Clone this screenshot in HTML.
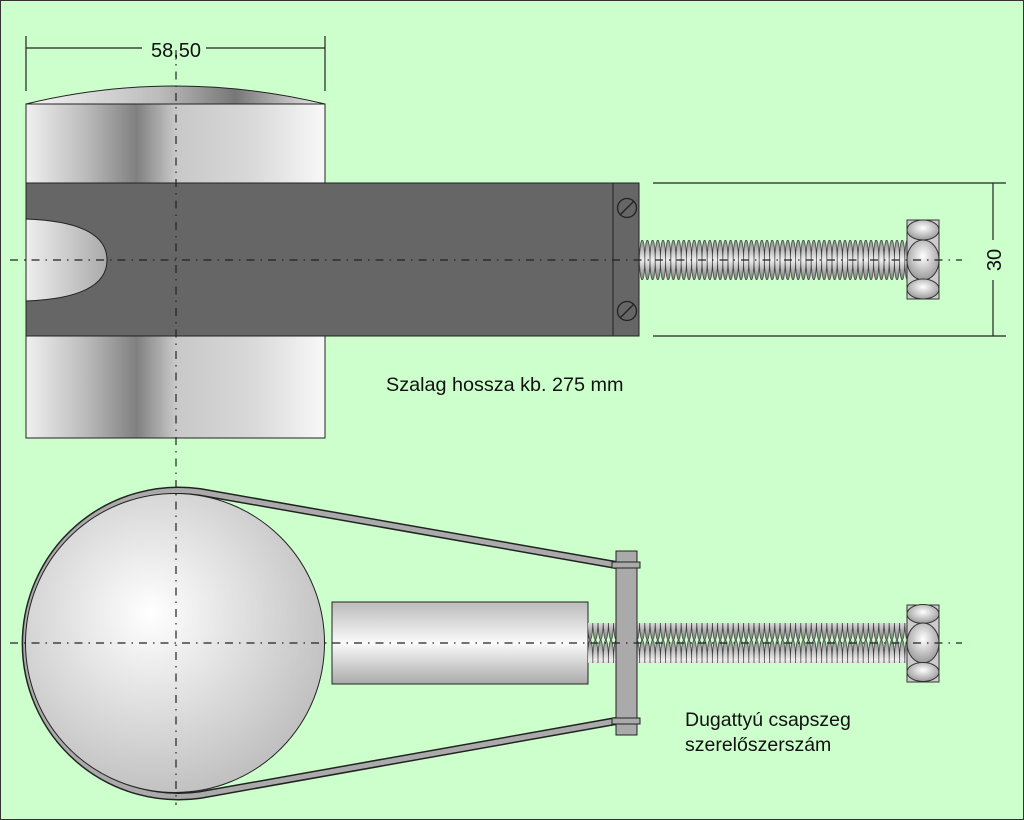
<!DOCTYPE html>
<html><head><meta charset="utf-8"><style>html,body{margin:0;padding:0;background:#ccffcc}svg{display:block}</style></head><body>
<svg width="1024" height="820" viewBox="0 0 1024 820" xmlns="http://www.w3.org/2000/svg" font-family="Liberation Sans, sans-serif">
<defs>
<linearGradient id="cyl" x1="26" y1="0" x2="325" y2="0" gradientUnits="userSpaceOnUse">
<stop offset="0" stop-color="#f0f0f0"/><stop offset="0.2" stop-color="#bbb"/><stop offset="0.37" stop-color="#808080"/><stop offset="0.5" stop-color="#c8c8c8"/><stop offset="0.75" stop-color="#d8d8d8"/><stop offset="1" stop-color="#f8f8f8"/></linearGradient>
<linearGradient id="cap" x1="26" y1="0" x2="325" y2="0" gradientUnits="userSpaceOnUse">
<stop offset="0" stop-color="#f5f5f5"/><stop offset="0.45" stop-color="#bbb"/><stop offset="0.7" stop-color="#777"/><stop offset="1" stop-color="#eee"/></linearGradient>
<linearGradient id="inner" x1="0" y1="0" x2="1" y2="0"><stop offset="0" stop-color="#eee"/><stop offset="1" stop-color="#aaa"/></linearGradient>
<linearGradient id="pin" x1="0" y1="0" x2="0" y2="1"><stop offset="0" stop-color="#bbb"/><stop offset="0.5" stop-color="#fafafa"/><stop offset="1" stop-color="#aaa"/></linearGradient>
<radialGradient id="ball" cx="0.42" cy="0.4" r="0.65"><stop offset="0" stop-color="#fff"/><stop offset="1" stop-color="#bdbdbd"/></radialGradient>
<radialGradient id="nutg" cx="0.5" cy="0.4" r="0.6"><stop offset="0" stop-color="#fff"/><stop offset="1" stop-color="#999"/></radialGradient>
<linearGradient id="thr" x1="0" y1="0" x2="0" y2="1"><stop offset="0" stop-color="#888"/><stop offset="0.5" stop-color="#eee"/><stop offset="1" stop-color="#777"/></linearGradient>
<pattern id="tp" x="0" y="0" width="5.2" height="40" patternUnits="userSpaceOnUse">
<ellipse cx="2.6" cy="20" rx="2.6" ry="20" fill="url(#thr)" stroke="#333" stroke-width="0.7"/></pattern>
</defs>
<rect x="0.5" y="0.5" width="1023" height="819" fill="#ccffcc" stroke="#333"/>

<rect x="26" y="104" width="299" height="334" fill="url(#cyl)" stroke="#222"/>
<path d="M26,104 Q175,68 325,104 Z" fill="url(#cap)" stroke="#222"/>
<rect x="26" y="183" width="587" height="153" fill="#666" stroke="#222"/>
<path d="M26,219 Q107,222 107,260 Q107,298 26,301 Z" fill="url(#inner)" stroke="#222"/>
<rect x="613" y="183" width="26" height="153" fill="#666" stroke="#222"/>
<g stroke="#222" fill="#666" stroke-width="1.3">
<circle cx="627" cy="208" r="9.5"/><line x1="620" y1="215" x2="634" y2="201"/>
<circle cx="627" cy="311" r="9.5"/><line x1="620" y1="318" x2="634" y2="304"/>
</g>
<rect x="639" y="240" width="268" height="40" fill="url(#tp)"/>
<g stroke="#333" fill="url(#nutg)">
<rect x="907" y="220" width="32" height="79" fill="#ccc"/>
<ellipse cx="923" cy="230" rx="16" ry="10"/>
<ellipse cx="923" cy="260" rx="16" ry="20"/>
<ellipse cx="923" cy="289" rx="16" ry="10"/>
</g>

<g stroke="#222" stroke-width="1.2" fill="none">
<line x1="26" y1="36" x2="26" y2="91"/><line x1="325" y1="36" x2="325" y2="91"/>
<line x1="26" y1="48" x2="142" y2="48"/><line x1="206" y1="48" x2="325" y2="48"/>
<line x1="653" y1="183" x2="1006" y2="183"/><line x1="653" y1="336" x2="1006" y2="336"/>
<line x1="993" y1="183" x2="993" y2="240"/><line x1="993" y1="280" x2="993" y2="336"/>
</g>
<text x="176" y="57" font-size="20" text-anchor="middle" fill="#111">58,50</text>
<text transform="translate(1001,260) rotate(-90)" font-size="20" text-anchor="middle" fill="#111">30</text>
<text x="386" y="391" font-size="19.8" fill="#111">Szalag hossza kb. 275 mm</text>

<path d="M616,565 L200,492 A153,153 0 1 0 200,795 L616,721" fill="none" stroke="#222" stroke-width="8"/>
<path d="M616,565 L200,492 A153,153 0 1 0 200,795 L616,721" fill="none" stroke="#aaa" stroke-width="5"/>
<circle cx="175" cy="643" r="149.5" fill="url(#ball)" stroke="#222"/>
<rect x="332" y="602" width="256" height="82" fill="url(#pin)" stroke="#222"/>
<rect x="588" y="623" width="319" height="40" fill="url(#tp)"/>
<rect x="616" y="551" width="21" height="184" fill="#aaa" stroke="#222"/>
<rect x="612" y="562" width="28" height="6" fill="#aaa" stroke="#222"/>
<rect x="612" y="718" width="28" height="6" fill="#aaa" stroke="#222"/>
<g stroke="#333" fill="url(#nutg)">
<rect x="907" y="605" width="32" height="77" fill="#ccc"/>
<ellipse cx="923" cy="614" rx="16" ry="9.5"/>
<ellipse cx="923" cy="643" rx="16" ry="20"/>
<ellipse cx="923" cy="672" rx="16" ry="9.5"/>
</g>
<text x="685" y="726" font-size="19.5" fill="#111">Dugattyú csapszeg</text>
<text x="685" y="751" font-size="19.5" fill="#111">szerelőszerszám</text>

<g stroke="#222" stroke-width="1.2" stroke-dasharray="8,6,1.5,6" fill="none">
<line x1="176" y1="50" x2="176" y2="805"/>
<line x1="10" y1="260" x2="962" y2="260"/>
<line x1="10" y1="643" x2="962" y2="643"/>
</g>
</svg>
</body></html>
